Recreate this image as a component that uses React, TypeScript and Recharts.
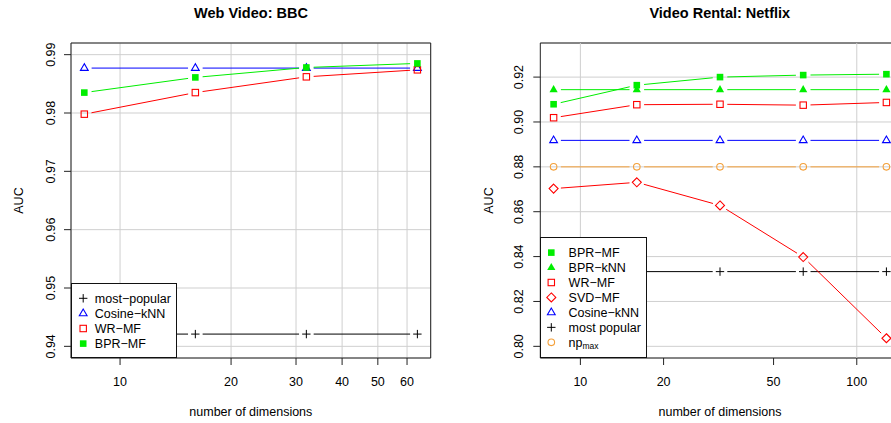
import React from 'react';
import {
  LineChart,
  Line,
  XAxis,
  YAxis,
  CartesianGrid,
  Legend,
  ReferenceArea,
  ReferenceLine,
} from 'recharts';

// ---------- Data: Web Video (BBC) ----------
const bbcDims = [8, 16, 32, 64];
const bbcMostPopular = [0.9421, 0.9421, 0.9421, 0.9421];
const bbcCosineKnn = [0.9877, 0.9877, 0.9877, 0.9877];
const bbcWrMf = [0.9798, 0.9835, 0.9862, 0.9874];
const bbcBprMf = [0.9835, 0.9861, 0.9878, 0.9885];
const bbcXTicks = [10, 20, 30, 40, 50, 60];
const bbcYTicks = [0.94, 0.95, 0.96, 0.97, 0.98, 0.99];

// ---------- Data: Video Rental (Netflix) ----------
const nfDims = [8, 16, 32, 64, 128];
const nfBprMf = [0.9079, 0.9164, 0.92, 0.9209, 0.9213];
const nfBprKnn = [0.9144, 0.9144, 0.9144, 0.9144, 0.9144];
const nfWrMf = [0.9019, 0.9077, 0.9079, 0.9075, 0.9087];
const nfSvdMf = [0.8703, 0.8731, 0.8628, 0.8398, 0.8036];
const nfCosineKnn = [0.8918, 0.8918, 0.8918, 0.8918, 0.8918];
const nfMostPopular = [0.8333, 0.8333, 0.8333, 0.8333, 0.8333];
const nfNpMax = [0.88, 0.88, 0.88, 0.88, 0.88];
const nfXTicks = [10, 20, 50, 100];
const nfXGrid = [10, 100];
const nfYTicks = [0.8, 0.82, 0.84, 0.86, 0.88, 0.9, 0.92];

const bbcData = bbcDims.map((d, i) => ({
  dim: d,
  mostPopular: bbcMostPopular[i],
  cosineKnn: bbcCosineKnn[i],
  wrMf: bbcWrMf[i],
  bprMf: bbcBprMf[i],
}));

const nfData = nfDims.map((d, i) => ({
  dim: d,
  bprMf: nfBprMf[i],
  bprKnn: nfBprKnn[i],
  wrMf: nfWrMf[i],
  svdMf: nfSvdMf[i],
  cosineKnn: nfCosineKnn[i],
  mostPopular: nfMostPopular[i],
  npMax: nfNpMax[i],
}));

// ---------- Style ----------
const FONT = '"Liberation Sans", Arial, Helvetica, sans-serif';
const FS = 12.5;
const GREEN = '#00EE00';
const RED = '#FF0000';
const BLUE = '#0000FF';
const ORANGE = '#F4A03A';
const BLACK = '#000000';
const GRID = '#cfcfcf';
const FRAME = '#222222';

type Kind = 'plus' | 'openTri' | 'openSq' | 'fillSq' | 'fillTri' | 'openDia' | 'openCirc';

function Marker({ kind, x, y, color }: { kind: Kind; x: number; y: number; color: string }) {
  switch (kind) {
    case 'plus':
      return (
        <g stroke={color} strokeWidth={1}>
          <line x1={x - 4.2} y1={y} x2={x + 4.2} y2={y} />
          <line x1={x} y1={y - 4.2} x2={x} y2={y + 4.2} />
        </g>
      );
    case 'openTri':
      return (
        <polygon
          points={`${x},${y - 4.4} ${x - 3.9},${y + 2.3} ${x + 3.9},${y + 2.3}`}
          fill="none"
          stroke={color}
          strokeWidth={1.1}
        />
      );
    case 'fillTri':
      return (
        <polygon
          points={`${x},${y - 4.6} ${x - 4.1},${y + 2.5} ${x + 4.1},${y + 2.5}`}
          fill={color}
          stroke="none"
        />
      );
    case 'openSq':
      return <rect x={x - 3.2} y={y - 3.2} width={6.4} height={6.4} fill="none" stroke={color} strokeWidth={1.1} />;
    case 'fillSq':
      return <rect x={x - 3.3} y={y - 3.3} width={6.6} height={6.6} fill={color} stroke="none" />;
    case 'openDia':
      return (
        <polygon
          points={`${x},${y - 4.5} ${x + 4.5},${y} ${x},${y + 4.5} ${x - 4.5},${y}`}
          fill="none"
          stroke={color}
          strokeWidth={1.1}
        />
      );
    case 'openCirc':
      return <circle cx={x} cy={y} r={3.3} fill="none" stroke={color} strokeWidth={1.1} />;
    default:
      return null;
  }
}

// R type="b": lines broken around each point
function makeDot(kind: Kind, color: string, gap = 7.3) {
  return (props: any) => {
    const { cx, cy, index, points } = props;
    const key = `dot-${kind}-${index}`;
    if (cx == null || cy == null || isNaN(cx) || isNaN(cy)) return <g key={key} />;
    let seg: React.ReactNode = null;
    const next = points && points[index + 1];
    if (next && next.x != null && next.y != null) {
      const dx = next.x - cx;
      const dy = next.y - cy;
      const len = Math.hypot(dx, dy);
      if (len > 2 * gap) {
        const ux = dx / len;
        const uy = dy / len;
        seg = (
          <line
            x1={cx + ux * gap}
            y1={cy + uy * gap}
            x2={next.x - ux * gap}
            y2={next.y - uy * gap}
            stroke={color}
            strokeWidth={1}
          />
        );
      }
    }
    return (
      <g key={key}>
        {seg}
        <Marker kind={kind} x={cx} y={cy} color={color} />
      </g>
    );
  };
}

const XTick = (props: any) => {
  const { x, y, payload } = props;
  return (
    <text x={x} y={y + 20.5} textAnchor="middle" fontFamily={FONT} fontSize={FS} fill="#000">
      {payload.value}
    </text>
  );
};

const makeYTick = (off: number) => (props: any) => {
  const { x, y, payload } = props;
  const bx = x - off;
  return (
    <text
      x={bx}
      y={y}
      transform={`rotate(-90, ${bx}, ${y})`}
      textAnchor="middle"
      fontFamily={FONT}
      fontSize={FS}
      fill="#000"
    >
      {Number(payload.value).toFixed(2)}
    </text>
  );
};

const XLabel = (props: any) => {
  const vb = props.viewBox || {};
  return (
    <text
      x={vb.x + vb.width / 2}
      y={vb.y + 57.5}
      textAnchor="middle"
      fontFamily={FONT}
      fontSize={FS}
      fill="#000"
    >
      number of dimensions
    </text>
  );
};

const YLabel = (props: any) => {
  const vb = props.viewBox || {};
  const x = vb.x + vb.width - 47.6;
  const y = vb.y + vb.height / 2;
  return (
    <text
      x={x}
      y={y}
      transform={`rotate(-90, ${x}, ${y})`}
      textAnchor="middle"
      fontFamily={FONT}
      fontSize={FS}
      fill="#000"
    >
      AUC
    </text>
  );
};

type LegendItem = { kind: Kind; color: string; label: React.ReactNode };

function LegendBox({
  width,
  height,
  items,
  symX,
  textX,
  y0,
  dy,
}: {
  width: number;
  height: number;
  items: LegendItem[];
  symX: number;
  textX: number;
  y0: number;
  dy: number;
}) {
  return (
    <div
      style={{
        width,
        height,
        boxSizing: 'border-box',
        border: '1px solid #111',
        background: '#fff',
        position: 'relative',
      }}
    >
      <svg width={width} height={height} style={{ position: 'absolute', left: -1, top: -1, overflow: 'visible' }}>
        {items.map((it, i) => {
          const cy = y0 + i * dy;
          return (
            <g key={i}>
              <Marker kind={it.kind} x={symX} y={cy} color={it.color} />
              <text x={textX} y={cy + 4.4} fontFamily={FONT} fontSize={FS} fill="#000">
                {it.label}
              </text>
            </g>
          );
        })}
      </svg>
    </div>
  );
}

const bbcLegend: LegendItem[] = [
  { kind: 'plus', color: BLACK, label: 'most\u2212popular' },
  { kind: 'openTri', color: BLUE, label: 'Cosine\u2212kNN' },
  { kind: 'openSq', color: RED, label: 'WR\u2212MF' },
  { kind: 'fillSq', color: GREEN, label: 'BPR\u2212MF' },
];

const nfLegend: LegendItem[] = [
  { kind: 'fillSq', color: GREEN, label: 'BPR\u2212MF' },
  { kind: 'fillTri', color: GREEN, label: 'BPR\u2212kNN' },
  { kind: 'openSq', color: RED, label: 'WR\u2212MF' },
  { kind: 'openDia', color: RED, label: 'SVD\u2212MF' },
  { kind: 'openTri', color: BLUE, label: 'Cosine\u2212kNN' },
  { kind: 'plus', color: BLACK, label: 'most popular' },
  {
    kind: 'openCirc',
    color: ORANGE,
    label: (
      <>
        <tspan>np</tspan>
        <tspan fontSize={8.5} dy={2.5}>
          max
        </tspan>
      </>
    ),
  },
];

const BBC_X: [number, number] = [7.362, 69.55];
const BBC_Y: [number, number] = [0.938, 0.992];
const NF_X: [number, number] = [7.161, 142.99];
const NF_Y: [number, number] = [0.7948, 0.9352];

function BbcChart() {
  return (
    <LineChart width={445} height={423} data={bbcData} margin={{ top: 43, right: 14.3, bottom: 0, left: 0 }}>
      <CartesianGrid stroke={GRID} strokeWidth={1} />
      <XAxis
        dataKey="dim"
        type="number"
        scale="log"
        domain={BBC_X}
        ticks={bbcXTicks}
        interval={0}
        allowDataOverflow
        axisLine={false}
        tickLine={{ stroke: FRAME }}
        tickSize={7}
        tickMargin={0}
        height={65}
        tick={<XTick />}
        label={{ content: XLabel }}
      />
      <YAxis
        type="number"
        domain={BBC_Y}
        ticks={bbcYTicks}
        interval={0}
        allowDataOverflow
        width={71}
        axisLine={false}
        tickLine={{ stroke: FRAME }}
        tickSize={7}
        tickMargin={0}
        tick={makeYTick(9.2)}
        label={{ content: YLabel }}
      />
      <ReferenceArea
        x1={BBC_X[0]}
        x2={BBC_X[1]}
        y1={BBC_Y[0]}
        y2={BBC_Y[1]}
        fill="none"
        fillOpacity={0}
        stroke={FRAME}
        strokeWidth={1}
        ifOverflow="visible"
      />
      <Line dataKey="mostPopular" stroke="none" isAnimationActive={false} dot={makeDot('plus', BLACK)} activeDot={false} />
      <Line dataKey="cosineKnn" stroke="none" isAnimationActive={false} dot={makeDot('openTri', BLUE)} activeDot={false} />
      <Line dataKey="wrMf" stroke="none" isAnimationActive={false} dot={makeDot('openSq', RED)} activeDot={false} />
      <Line dataKey="bprMf" stroke="none" isAnimationActive={false} dot={makeDot('fillSq', GREEN)} activeDot={false} />
      <Legend
        verticalAlign="middle"
        align="center"
        layout="horizontal"
        wrapperStyle={{ left: 71, top: 282.7, bottom: 'auto', width: 105.5, height: 75.5 }}
        content={() => (
          <LegendBox width={105.5} height={75.5} items={bbcLegend} symX={12.2} textX={23.8} y0={15.3} dy={15.1} />
        )}
      />
    </LineChart>
  );
}

function NetflixChart() {
  return (
    <LineChart width={470} height={423} data={nfData} margin={{ top: 43, right: 16.3, bottom: 0, left: 0 }}>
      <CartesianGrid stroke={GRID} strokeWidth={1} vertical={false} />
      {nfXGrid.map((g) => (
        <ReferenceLine key={g} x={g} stroke={GRID} strokeWidth={1} />
      ))}
      <XAxis
        dataKey="dim"
        type="number"
        scale="log"
        domain={NF_X}
        ticks={nfXTicks}
        interval={0}
        allowDataOverflow
        axisLine={false}
        tickLine={{ stroke: FRAME }}
        tickSize={7}
        tickMargin={0}
        height={65}
        tick={<XTick />}
        label={{ content: XLabel }}
      />
      <YAxis
        type="number"
        domain={NF_Y}
        ticks={nfYTicks}
        interval={0}
        allowDataOverflow
        width={94.3}
        axisLine={false}
        tickLine={{ stroke: FRAME }}
        tickSize={7}
        tickMargin={0}
        tick={makeYTick(10.6)}
        label={{ content: YLabel }}
      />
      <ReferenceArea
        x1={NF_X[0]}
        x2={NF_X[1]}
        y1={NF_Y[0]}
        y2={NF_Y[1]}
        fill="none"
        fillOpacity={0}
        stroke={FRAME}
        strokeWidth={1}
        ifOverflow="visible"
      />
      <Line dataKey="mostPopular" stroke="none" isAnimationActive={false} dot={makeDot('plus', BLACK)} activeDot={false} />
      <Line dataKey="npMax" stroke="none" isAnimationActive={false} dot={makeDot('openCirc', ORANGE)} activeDot={false} />
      <Line dataKey="cosineKnn" stroke="none" isAnimationActive={false} dot={makeDot('openTri', BLUE)} activeDot={false} />
      <Line dataKey="svdMf" stroke="none" isAnimationActive={false} dot={makeDot('openDia', RED)} activeDot={false} />
      <Line dataKey="wrMf" stroke="none" isAnimationActive={false} dot={makeDot('openSq', RED)} activeDot={false} />
      <Line dataKey="bprKnn" stroke="none" isAnimationActive={false} dot={makeDot('fillTri', GREEN)} activeDot={false} />
      <Line dataKey="bprMf" stroke="none" isAnimationActive={false} dot={makeDot('fillSq', GREEN)} activeDot={false} />
      <Legend
        verticalAlign="middle"
        align="center"
        layout="horizontal"
        wrapperStyle={{ left: 94.3, top: 237.3, bottom: 'auto', width: 106.5, height: 120.7 }}
        content={() => (
          <LegendBox width={106.5} height={120.7} items={nfLegend} symX={11.3} textX={28.6} y0={15.6} dy={14.95} />
        )}
      />
    </LineChart>
  );
}

export default function App() {
  return (
    <div
      style={{
        position: 'absolute',
        left: 0,
        top: 0,
        width: 891,
        height: 423,
        overflow: 'hidden',
        background: '#fff',
      }}
    >
      <div style={{ position: 'absolute', left: 0, top: 0, width: 445, height: 423 }}>
        <BbcChart />
      </div>
      <div style={{ position: 'absolute', left: 446, top: 0, width: 470, height: 423 }}>
        <NetflixChart />
      </div>
      <svg
        width={891}
        height={423}
        style={{ position: 'absolute', left: 0, top: 0, pointerEvents: 'none' }}
      >
        <text x={251} y={18.3} textAnchor="middle" fontFamily={FONT} fontSize={14.5} fontWeight="bold" fill="#000">
          Web Video: BBC
        </text>
        <text x={719.8} y={18.3} textAnchor="middle" fontFamily={FONT} fontSize={14.5} fontWeight="bold" fill="#000">
          Video Rental: Netflix
        </text>
      </svg>
    </div>
  );
}
